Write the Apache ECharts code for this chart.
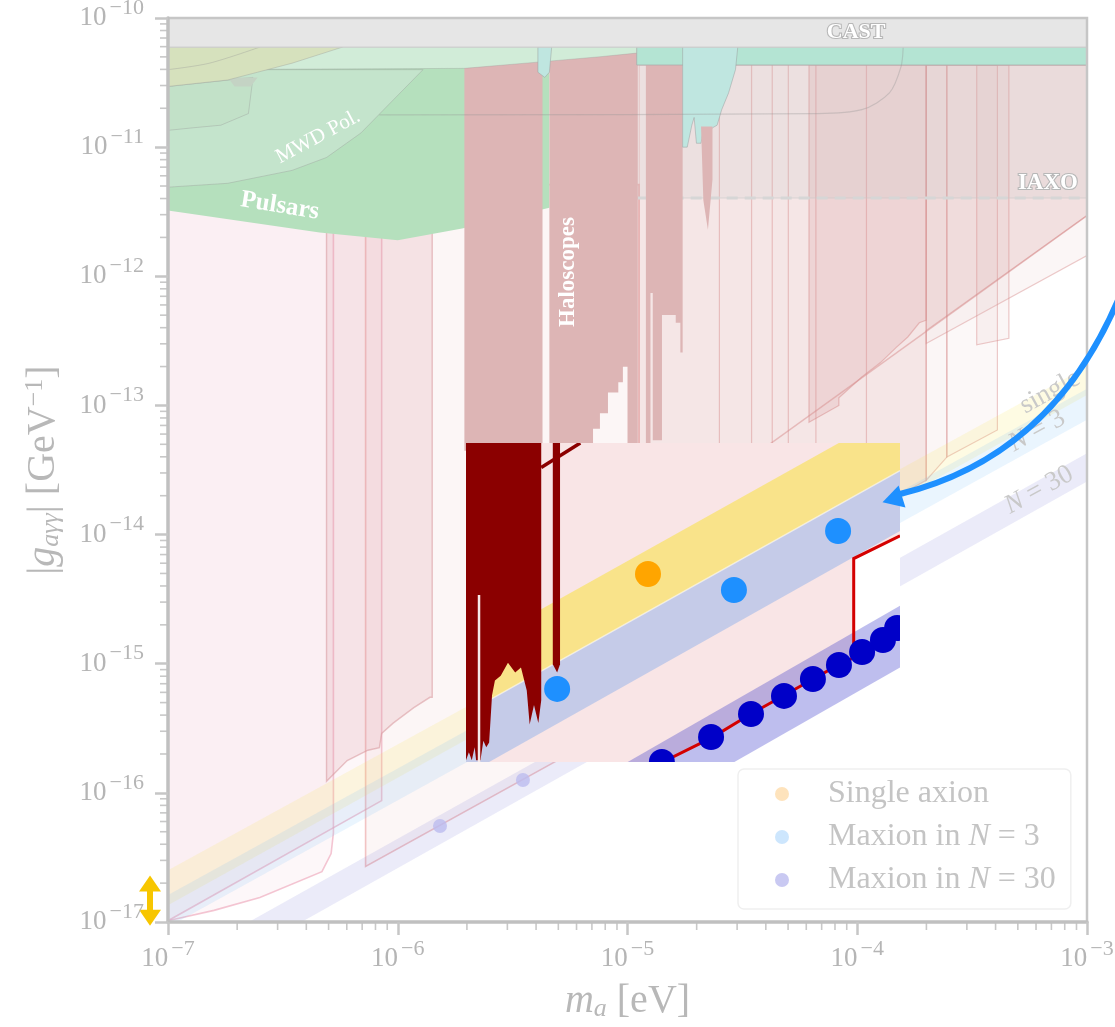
<!DOCTYPE html>
<html>
<head>
<meta charset="utf-8">
<title>Axion-photon coupling limits</title>
<script src="https://cdn.jsdelivr.net/npm/echarts@6.0.0/dist/echarts.min.js"></script>
<style>
html,body{margin:0;padding:0;background:#ffffff;}
#chart{width:1115px;height:1027px;}
</style>
</head>
<body>
<div id="chart"></div>
<script>
// ================= DATA (values are log10 of m_a [eV] and log10 of |g| [GeV^-1]) =================
const xExtent = [-7, -3];
const yExtent = [-17, -10];
const xDecades = [-7, -6, -5, -4];
const yDecades = [-17, -16, -15, -14, -13, -12, -11];
const minorMultipliers = [2, 3, 4, 5, 6, 7, 8, 9];

// helioscopes
const castRegion = [[-7,-10],[-3,-10],[-3,-10.225],[-7,-10.225]];
const iaxoRegion = [[-4.96,-10.364],[-3,-10.364],[-3,-11.394],[-4.96,-11.394]];
const iaxoLine = [[-4.96,-11.394],[-3,-11.394]];
const tealBand = [[-4.96,-10.225],[-3,-10.225],[-3,-10.364],[-4.96,-10.364]];
const tealColumns = [[-4.76,-10.225],[-4.52,-10.225],[-4.53,-10.40],[-4.56,-10.58],[-4.59,-10.71],[-4.61,-10.83],[-4.63,-10.85],[-4.65,-10.89],[-4.67,-10.87],[-4.68,-10.97],[-4.70,-10.97],[-4.71,-10.77],[-4.72,-10.83],[-4.74,-11.0],[-4.76,-11.0]];
const tealNotch = [[-5.39,-10.225],[-5.33,-10.225],[-5.34,-10.42],[-5.36,-10.46],[-5.39,-10.42]];

// astrophysics
const pulsarRegion = [[-7,-10.225],[-5.34,-10.225],[-5.34,-11.47],[-5.72,-11.63],[-6.0,-11.72],[-6.34,-11.66],[-7,-11.49]];
const mwdRegion = [[-7,-10.40],[-5.89,-10.40],[-6.05,-10.69],[-6.16,-10.89],[-6.31,-11.08],[-6.46,-11.18],[-6.74,-11.28],[-7,-11.31]];
const greenMidRegion = [[-7,-10.53],[-6.63,-10.46],[-6.65,-10.74],[-6.77,-10.83],[-6.89,-10.85],[-7,-10.87]];
const greyBlob = [[-6.74,-10.46],[-6.61,-10.46],[-6.64,-10.53],[-6.71,-10.53]];
const lightGreenTop = [[-7,-10.225],[-4.95,-10.225],[-4.95,-10.27],[-5.12,-10.30],[-5.38,-10.34],[-5.71,-10.39],[-7,-10.40]];
const yellowGreen = [[-7,-10.225],[-6.24,-10.225],[-6.46,-10.35],[-6.74,-10.48],[-7,-10.53]];
const yellowGreenInner = [[-7,-10.40],[-6.82,-10.35],[-6.60,-10.225]];
const greyCurve = [[-6.08,-10.75],[-4.18,-10.74],[-3.98,-10.71],[-3.86,-10.58],[-3.81,-10.38],[-3.80,-10.225]];

// haloscopes
const haloscopeA = [[-5.71,-10.225],[-5.37,-10.225],[-5.37,-13.35],[-5.71,-13.35]];
const haloscopeB = [[-5.34,-10.225],[-4.955,-10.225],[-4.955,-13.35],[-5.0,-13.35],[-5.0,-12.70],[-5.02,-12.70],[-5.02,-12.82],[-5.04,-12.82],[-5.04,-12.90],[-5.085,-12.90],[-5.085,-13.06],[-5.12,-13.06],[-5.12,-13.18],[-5.15,-13.18],[-5.15,-13.35],[-5.34,-13.35]];
const haloscopeC = [[-4.92,-10.225],[-4.76,-10.225],[-4.76,-12.59],[-4.77,-12.59],[-4.77,-12.36],[-4.79,-12.36],[-4.79,-12.30],[-4.85,-12.30],[-4.85,-13.27],[-4.89,-13.27],[-4.89,-12.13],[-4.90,-12.13],[-4.90,-13.35],[-4.92,-13.35]];
const haloscopeSpike = [[-4.68,-10.84],[-4.63,-10.84],[-4.63,-11.25],[-4.65,-11.64],[-4.67,-11.41]];

// projections (light pink)
const pinkLeftA = [[-7,-11.29],[-6.28,-11.29],[-6.28,-16.31],[-6.29,-16.47],[-6.33,-16.61],[-6.60,-16.81],[-6.80,-16.91],[-7,-16.99]];
const pinkLeftB = [[-7,-16.99],[-6.07,-16.06],[-6.07,-11.29],[-7,-11.29]];
const pinkLineRegion = [[-6.14,-11.29],[-6.14,-16.57],[-4.95,-15.40],[-4.95,-11.29]];
const pinkStrips = [[-6.31,-11.63],[-5.85,-11.63],[-5.85,-15.26],[-5.86,-15.26],[-5.93,-15.34],[-6.02,-15.46],[-6.07,-15.54],[-6.08,-15.65],[-6.13,-15.67],[-6.22,-15.75],[-6.31,-15.91]];
const rightBlock = [[-4.95,-10.364],[-3,-10.364],[-3,-11.53],[-3.70,-12.42],[-3.70,-13.58],[-4.95,-14.82]];
const rightDark = [[-4.21,-10.364],[-3.70,-10.364],[-3.70,-12.34],[-3.73,-12.36],[-3.78,-12.47],[-3.83,-12.55],[-3.90,-12.67],[-3.98,-12.78],[-4.08,-12.94],[-4.08,-13.0],[-4.21,-13.13]];
const rightLight = [[-3.70,-10.364],[-3,-10.364],[-3,-11.84],[-3.70,-12.52]];
const rightStrip1 = [[-3.70,-10.364],[-3.61,-10.364],[-3.61,-13.40],[-3.70,-13.58]];
const rightStrip2 = [[-3.61,-10.364],[-3.39,-10.364],[-3.39,-13.19],[-3.61,-13.40]];
const rightBox = [[-3.48,-10.364],[-3.34,-10.364],[-3.34,-12.48],[-3.48,-12.53]];
const rightVLineX = [-4.60, -4.46, -4.37, -4.30, -4.18, -3.96];
const diagLineA = [[-4.42,-13.35],[-3,-11.53]];

// axion bands in the main plot (upper / lower edges)
const bandSingleUpper = [[-7,-16.60],[-3,-12.70]];
const bandSingleLower = [[-7,-16.87],[-3,-12.92]];
const bandN3Upper = [[-7,-16.79],[-3,-12.87]];
const bandN3Lower = [[-7,-17.04],[-3,-13.11]];
const bandN30Upper = [[-7,-17.35],[-3,-13.37]];
const bandN30Lower = [[-7,-17.58],[-3,-13.59]];
const mainN30Dots = [[-5.816,-16.257],[-5.455,-15.901]];

// labels
const regionLabelText = ['CAST', 'IAXO', 'MWD Pol.', 'Pulsars', 'Haloscopes'];
const regionLabelAt = [[-4.005,-10.108],[-3.170,-11.278],[-6.347,-10.921],[-6.513,-11.456],[-5.259,-11.967]];
const bandLabelText = ['single', '{i|N} = 3', '{i|N} = 30'];
const bandLabelAt = [[-3.161,-12.896],[-3.218,-13.198],[-3.209,-13.655]];

// annotations: arrow = [start, control, end] of a quadratic curve, head = triangle
const blueArrowCurve = [[-2.865,-12.184],[-3.157,-13.399],[-3.814,-13.686]];
const blueArrowHead = [[-3.89,-13.75],[-3.82,-13.62],[-3.79,-13.79]];
const yRangeArrow = [-16.64, -17.03];

// ================= INSET (zoomed view) =================
const insetXExtent = [-5.5, -4.0];
const insetYExtent = [-15.6, -13.64];
const insetFrame = [[-5.5,-13.64],[-4.0,-13.64],[-4.0,-15.6],[-5.5,-15.6]];
const insetRedLine = [[-4.90,-15.68],[-4.82,-15.60],[-4.65,-15.45],[-4.52,-15.31],[-4.40,-15.19],[-4.30,-15.09],[-4.21,-15.0],[-4.16,-14.96],[-4.16,-14.35],[-4.0,-14.21]];
const insetSingleUpper = [[-5.5,-14.92],[-4.0,-13.43]];
const insetSingleLower = [[-5.5,-15.30],[-4.0,-13.81]];
const insetN3Upper = [[-5.5,-15.30],[-4.0,-13.81]];
const insetN3Lower = [[-5.5,-15.68],[-4.0,-14.18]];
const insetN30Upper = [[-5.5,-16.17],[-4.0,-14.64]];
const insetN30Lower = [[-5.5,-16.54],[-4.0,-15.02]];
const insetDarkRed = [[-5.5,-13.64],[-5.24,-13.64],[-5.24,-15.22],[-5.25,-15.36],[-5.265,-15.25],[-5.28,-15.37],[-5.29,-15.16],[-5.31,-15.02],[-5.33,-15.05],[-5.355,-14.99],[-5.38,-15.07],[-5.40,-15.10],[-5.41,-15.19],[-5.42,-15.48],[-5.43,-15.51],[-5.44,-15.47],[-5.45,-15.59],[-5.465,-15.59],[-5.47,-15.51],[-5.48,-15.59],[-5.49,-15.54],[-5.5,-15.59]];
const insetDarkRedStrip = [[-5.20,-13.64],[-5.175,-13.64],[-5.175,-15.0],[-5.185,-15.05],[-5.20,-15.0]];
const insetDarkRedLine = [[-5.24,-13.79],[-5.105,-13.64]];
const insetWhiteLine = [[-5.455,-14.574],[-5.455,-15.6]];
const insetSingleDots = [[-4.871,-14.445]];
const insetN3Dots = [[-5.185,-15.151],[-4.574,-14.543],[-4.214,-14.181]];
const insetN30Dots = [[-4.823,-15.600],[-4.653,-15.446],[-4.515,-15.305],[-4.401,-15.194],[-4.301,-15.090],[-4.211,-15.004],[-4.131,-14.924],[-4.059,-14.850],[-4.010,-14.777]];

// ================= BUILD =================
const FONT = "'Liberation Serif','DejaVu Serif',serif";
const P = v => Math.pow(10, v);
const chart = echarts.init(document.getElementById('chart'), null, {renderer: 'canvas'});
const series = [];
let zc = 2;
const toPx = (api, p) => api.coord([P(p[0]), P(p[1])]);

function addShape(kind, pts, style, opts) {
  opts = opts || {};
  const gi = opts.grid || 0;
  series.push({
    type: 'custom', xAxisIndex: gi, yAxisIndex: gi, z: opts.z || zc++, silent: true,
    clip: opts.clip !== false, animation: false,
    data: [[P(pts[0][0]), P(pts[0][1])]],
    renderItem: (params, api) => ({
      type: kind,
      shape: {points: pts.map(p => toPx(api, p)), smooth: opts.smooth || 0},
      style: Object.assign({fill: 'none', stroke: 'none', lineWidth: 1}, style)
    })
  });
}
const poly = (pts, style, opts) => addShape('polygon', pts, style, opts);
const line = (pts, style, opts) => addShape('polyline', pts, style, opts);
const band = (up, lo, style, opts) => poly(up.concat(lo.slice().reverse()), style, opts);

function addDots(pts, color, r, gi, z) {
  series.push({
    type: 'custom', xAxisIndex: gi, yAxisIndex: gi, z: z, silent: true, clip: true, animation: false,
    data: pts.map(p => [P(p[0]), P(p[1])]),
    renderItem: (params, api) => {
      const c = api.coord([api.value(0), api.value(1)]);
      return {type: 'circle', shape: {cx: c[0], cy: c[1], r: r}, style: {fill: color}};
    }
  });
}

function addTexts(texts, at, styleFn, z) {
  series.push({
    type: 'custom', xAxisIndex: 0, yAxisIndex: 0, z: z, silent: true, clip: false, animation: false,
    data: at.map(p => [P(p[0]), P(p[1])]),
    renderItem: (params, api) => {
      const c = api.coord([api.value(0), api.value(1)]);
      const s = styleFn(params.dataIndex, api);
      return {type: 'text', x: c[0], y: c[1], rotation: s.rotation || 0,
        style: Object.assign({text: texts[params.dataIndex], align: 'center', verticalAlign: 'middle'}, s.style)};
    }
  });
}

// ---- main plot layers ----
const pinkA = {fill: 'rgba(234,176,192,0.10)', stroke: 'rgba(236,160,182,0.6)', lineWidth: 1.6};
poly(pinkLeftA, pinkA);
poly(pinkLeftB, pinkA);
poly(pinkLineRegion, {fill: 'rgba(225,170,170,0.10)', stroke: 'rgba(232,150,150,0.55)', lineWidth: 1.6});
poly(pinkStrips, {fill: 'rgba(220,150,160,0.20)', stroke: 'rgba(215,150,155,0.55)', lineWidth: 1.4});
poly(rightBlock, {fill: 'rgba(215,160,160,0.26)', stroke: 'rgba(215,140,140,0.45)', lineWidth: 1.2});
poly(rightDark, {fill: 'rgba(215,150,155,0.22)', stroke: 'rgba(215,140,140,0.5)', lineWidth: 1.2});
poly(rightLight, {fill: 'rgba(225,185,185,0.12)', stroke: 'rgba(215,140,140,0.45)', lineWidth: 1.2});
poly(rightStrip1, {fill: 'rgba(225,185,185,0.12)', stroke: 'rgba(215,140,140,0.45)', lineWidth: 1.2});
poly(rightStrip2, {fill: 'rgba(225,185,185,0.10)', stroke: 'rgba(215,140,140,0.45)', lineWidth: 1.2});
poly(rightBox, {fill: 'rgba(225,185,185,0.12)', stroke: 'rgba(215,140,140,0.45)', lineWidth: 1.2});
rightVLineX.forEach(x => line([[x,-10.364],[x,-13.3]], {stroke: 'rgba(215,140,140,0.45)', lineWidth: 1.2}));
line(diagLineA, {stroke: 'rgba(215,140,140,0.5)', lineWidth: 1.3});

band(bandSingleUpper, bandSingleLower, {fill: 'rgba(250,225,70,0.15)'});
band(bandN3Upper, bandN3Lower, {fill: 'rgba(115,185,250,0.15)'});
band(bandN30Upper, bandN30Lower, {fill: 'rgba(120,120,215,0.15)'});

poly(iaxoRegion, {fill: 'rgba(190,190,190,0.16)', stroke: 'rgba(200,200,200,0.6)', lineWidth: 1});
line(iaxoLine, {stroke: '#d6d6d6', lineWidth: 3, lineDash: [11, 7]});

poly(pulsarRegion, {fill: '#b5e0bd'});
poly(mwdRegion, {fill: '#c4e4cc', stroke: 'rgba(150,150,150,0.35)', lineWidth: 1});
poly(haloscopeA, {fill: '#ddb5b5'});
poly(haloscopeB, {fill: '#ddb5b5'});
poly(haloscopeC, {fill: '#ddb5b5'});
poly(lightGreenTop, {fill: '#d1ecd8', stroke: 'rgba(150,150,150,0.3)', lineWidth: 1});
poly(greenMidRegion, {fill: '#c2e1c8', stroke: 'rgba(150,150,150,0.35)', lineWidth: 1});
poly(greyBlob, {fill: '#c4d3c4'});
poly(yellowGreen, {fill: '#d6e1bd', stroke: 'rgba(150,150,150,0.35)', lineWidth: 1});
line(yellowGreenInner, {stroke: 'rgba(150,150,150,0.35)', lineWidth: 1}, {smooth: 0.3});
poly(tealBand, {fill: '#b4e4d3', stroke: 'rgba(170,170,170,0.7)', lineWidth: 1});
poly(tealColumns, {fill: '#bfe6e0', stroke: 'rgba(150,150,150,0.45)', lineWidth: 1});
poly(tealNotch, {fill: '#bfe6e0', stroke: 'rgba(150,150,150,0.45)', lineWidth: 1});
poly(haloscopeSpike, {fill: '#ddb5b5'});
line(greyCurve, {stroke: 'rgba(150,150,150,0.35)', lineWidth: 1.2}, {smooth: 0.3});
poly(castRegion, {fill: '#e6e6e6', stroke: '#cfcfcf', lineWidth: 1.2});

// legend-linked (faded) series
series.push({name: 'Single axion', type: 'scatter', xAxisIndex: 0, yAxisIndex: 0, z: zc++, silent: true, animation: false,
  symbolSize: 14, itemStyle: {color: '#fedcab'}, data: []});
series.push({name: 'Maxion in N = 3', type: 'scatter', xAxisIndex: 0, yAxisIndex: 0, z: zc++, silent: true, animation: false,
  symbolSize: 14, itemStyle: {color: '#c0e0fd'}, data: []});
series.push({name: 'Maxion in N = 30', type: 'scatter', xAxisIndex: 0, yAxisIndex: 0, z: zc++, silent: true, animation: false,
  symbolSize: 14, itemStyle: {color: '#bcbcef'}, data: mainN30Dots.map(p => [P(p[0]), P(p[1])])});

// region labels
const regionLabelStyle = [
  {rotation: 0, style: {fill: '#ffffff', stroke: '#b8b8b8', lineWidth: 2.2, strokeFirst: true, fontSize: 22, fontWeight: 'bold', fontFamily: FONT}},
  {rotation: 0, style: {fill: '#ffffff', stroke: '#b8b8b8', lineWidth: 2.2, strokeFirst: true, fontSize: 23, fontWeight: 'bold', fontFamily: FONT}},
  {rotation: 0.49, style: {fill: '#ffffff', fontSize: 21, fontFamily: FONT}},
  {rotation: -0.16, style: {fill: '#ffffff', fontSize: 25, fontWeight: 'bold', fontFamily: FONT}},
  {rotation: Math.PI / 2, style: {fill: '#ffffff', fontSize: 23, fontWeight: 'bold', fontFamily: FONT}}
];
addTexts(regionLabelText, regionLabelAt, i => regionLabelStyle[i], zc++);
addTexts(bandLabelText, bandLabelAt, (i, api) => {
  const a = toPx(api, bandSingleUpper[0]), b = toPx(api, bandSingleUpper[1]);
  return {rotation: Math.atan2(a[1] - b[1], b[0] - a[0]),
    style: {fill: '#c9c9c9', fontSize: 27, fontFamily: FONT,
      rich: {i: {fontStyle: 'italic', fontSize: 27, fontFamily: FONT, fill: '#c9c9c9'}}}};
}, zc++);

// ---- inset ----
let zi = 60;
poly(insetFrame, {fill: '#ffffff'}, {grid: 1, z: zi++});
poly([[-5.5,-15.7],[-5.5,-13.64],[-4.0,-13.64]].concat(insetRedLine.slice().reverse()), {fill: '#f9e5e6'}, {grid: 1, z: zi++});
band(insetSingleUpper, insetSingleLower, {fill: 'rgba(250,225,0,0.40)'}, {grid: 1, z: zi++});
band(insetN3Upper, insetN3Lower, {fill: 'rgba(120,165,235,0.40)'}, {grid: 1, z: zi++});
line(insetN3Upper, {stroke: 'rgba(255,255,255,0.55)', lineWidth: 1.5}, {grid: 1, z: zi++});
band(insetN30Upper, insetN30Lower, {fill: 'rgba(40,40,200,0.30)'}, {grid: 1, z: zi++});
poly(insetDarkRed, {fill: '#8b0000'}, {grid: 1, z: zi++});
poly(insetDarkRedStrip, {fill: '#8b0000'}, {grid: 1, z: zi++});
line(insetDarkRedLine, {stroke: '#8b0000', lineWidth: 3.5}, {grid: 1, z: zi++});
line(insetWhiteLine, {stroke: '#f6e8e8', lineWidth: 2.5}, {grid: 1, z: zi++});
line(insetRedLine, {stroke: '#d40000', lineWidth: 3}, {grid: 1, z: zi++});
addDots(insetN3Dots, '#1e90ff', 13, 1, zi++);
addDots(insetSingleDots, '#ffa500', 13, 1, zi++);
addDots(insetN30Dots, '#0000c8', 13, 1, zi++);

// ---- frame, minor ticks, annotations ----
line([[-7,-10],[-3,-10],[-3,-17]], {stroke: '#c6c6c6', lineWidth: 2.5}, {clip: false, z: 95});
series.push({
  type: 'custom', xAxisIndex: 0, yAxisIndex: 0, z: 96, silent: true, clip: false, animation: false,
  data: xDecades.flatMap(d => minorMultipliers.map(m => [m * P(d), P(yExtent[0])])),
  renderItem: (params, api) => {
    const c = api.coord([api.value(0), api.value(1)]);
    return {type: 'line', shape: {x1: c[0], y1: c[1], x2: c[0], y2: c[1] + 8}, style: {stroke: '#c8c8c8', lineWidth: 1.6}};
  }
});
series.push({
  type: 'custom', xAxisIndex: 0, yAxisIndex: 0, z: 96, silent: true, clip: false, animation: false,
  data: yDecades.flatMap(d => minorMultipliers.map(m => [P(xExtent[0]), m * P(d)])),
  renderItem: (params, api) => {
    const c = api.coord([api.value(0), api.value(1)]);
    return {type: 'line', shape: {x1: c[0] - 8, y1: c[1], x2: c[0], y2: c[1]}, style: {stroke: '#c8c8c8', lineWidth: 1.6}};
  }
});
// blue curved arrow (quadratic curve through the library's coordinate conversion)
series.push({
  type: 'custom', xAxisIndex: 0, yAxisIndex: 0, z: 97, silent: true, clip: false, animation: false,
  data: [[P(blueArrowCurve[0][0]), P(blueArrowCurve[0][1])]],
  renderItem: (params, api) => {
    const s = toPx(api, blueArrowCurve[0]), c = toPx(api, blueArrowCurve[1]), e = toPx(api, blueArrowCurve[2]);
    return {type: 'bezierCurve', shape: {x1: s[0], y1: s[1], cpx1: c[0], cpy1: c[1], x2: e[0], y2: e[1]},
      style: {stroke: '#1e90ff', lineWidth: 6, fill: 'none', lineCap: 'round'}};
  }
});
poly(blueArrowHead, {fill: '#1e90ff'}, {clip: false, z: 97});
// yellow range arrow on the y axis
series.push({
  type: 'custom', xAxisIndex: 0, yAxisIndex: 0, z: 98, silent: true, clip: false, animation: false,
  data: [[P(xExtent[0]), P(yRangeArrow[0]), P(yRangeArrow[1])]],
  renderItem: (params, api) => {
    const t = api.coord([api.value(0), api.value(1)]);
    const b = api.coord([api.value(0), api.value(2)]);
    const cx = t[0] - 18, col = '#f7c600';
    return {type: 'group', children: [
      {type: 'polygon', shape: {points: [[cx, t[1]], [cx - 11, t[1] + 16], [cx + 11, t[1] + 16]]}, style: {fill: col}},
      {type: 'rect', shape: {x: cx - 3, y: t[1] + 15, width: 6, height: (b[1] - t[1]) - 30}, style: {fill: col}},
      {type: 'polygon', shape: {points: [[cx, b[1]], [cx - 11, b[1] - 16], [cx + 11, b[1] - 16]]}, style: {fill: col}}
    ]};
  }
});

// ---- axes ----
const labelRich = {
  b: {fontSize: 27, fontFamily: FONT, color: '#b5b5b5'},
  e: {fontSize: 22, fontFamily: FONT, color: '#b5b5b5', padding: [0, 0, 20, 3]}
};
const expLabel = v => {
  const e = Math.round(Math.log10(v));
  return '{b|10}{e|' + (e < 0 ? '\u2212' : '') + Math.abs(e) + '}';
};
const nameStyle = {
  color: '#b8b8b8', fontSize: 40, fontFamily: FONT,
  rich: {
    i: {fontStyle: 'italic', fontSize: 40, fontFamily: FONT, color: '#b8b8b8'},
    s: {fontStyle: 'italic', fontSize: 26, fontFamily: FONT, color: '#b8b8b8', padding: [16, 0, 0, 0]},
    e: {fontSize: 26, fontFamily: FONT, color: '#b8b8b8', padding: [0, 0, 16, 0]},
    n: {fontSize: 40, fontFamily: FONT, color: '#b8b8b8'}
  }
};

const option = {
  animation: false,
  backgroundColor: '#ffffff',
  grid: [
    {left: 168, top: 18, width: 919, height: 904, show: false, containLabel: false, outerBoundsMode: 'none'},
    {left: 466, top: 443, width: 434, height: 319, show: false, containLabel: false, outerBoundsMode: 'none'}
  ],
  xAxis: [
    {type: 'log', logBase: 10, gridIndex: 0, min: P(xExtent[0]), max: P(xExtent[1]), splitNumber: 4, z: 100,
      axisLine: {show: true, onZero: false, lineStyle: {color: '#c0c0c0', width: 3.5}},
      axisTick: {show: true, length: 13, lineStyle: {color: '#c6c6c6', width: 2.5}},
      minorTick: {show: false}, splitLine: {show: false},
      axisLabel: {show: true, margin: 16, formatter: expLabel, rich: labelRich, showMinLabel: true, showMaxLabel: true},
      name: '{i|m}{s|a}{n| [eV]}', nameLocation: 'middle', nameGap: 58, nameTextStyle: nameStyle},
    {type: 'log', logBase: 10, gridIndex: 1, min: P(insetXExtent[0]), max: P(insetXExtent[1]), show: false}
  ],
  yAxis: [
    {type: 'log', logBase: 10, gridIndex: 0, min: P(yExtent[0]), max: P(yExtent[1]), splitNumber: 7, z: 100,
      axisLine: {show: true, onZero: false, lineStyle: {color: '#c0c0c0', width: 3.5}},
      axisTick: {show: true, length: 13, lineStyle: {color: '#c6c6c6', width: 2.5}},
      minorTick: {show: false}, splitLine: {show: false},
      axisLabel: {show: true, margin: 24, formatter: expLabel, rich: labelRich, showMinLabel: true, showMaxLabel: true},
      name: '{n||}{i|g}{s|a\u03b3\u03b3}{n|| [GeV}{e|\u22121}{n|]}', nameLocation: 'middle', nameGap: 104, nameTextStyle: nameStyle},
    {type: 'log', logBase: 10, gridIndex: 1, min: P(insetYExtent[0]), max: P(insetYExtent[1]), show: false}
  ],
  legend: {
    data: ['Single axion', 'Maxion in N = 3', 'Maxion in N = 30'],
    orient: 'vertical', left: 738, top: 769, z: 100, selectedMode: false,
    icon: 'circle', itemWidth: 14, itemHeight: 14, itemGap: 11, padding: [9, 15, 13, 37],
    backgroundColor: '#ffffff', borderColor: '#efefef', borderWidth: 1.5, borderRadius: 6,
    formatter: n => '{sp|}' + n.replace('N =', '{i|N} ='),
    textStyle: {fontFamily: FONT, fontSize: 32, color: '#c4c4c4',
      rich: {
        sp: {width: 34},
        i: {fontStyle: 'italic', fontFamily: FONT, fontSize: 32, color: '#c4c4c4'}
      }}
  },
  series: series
};
chart.setOption(option);
</script>
</body>
</html>
